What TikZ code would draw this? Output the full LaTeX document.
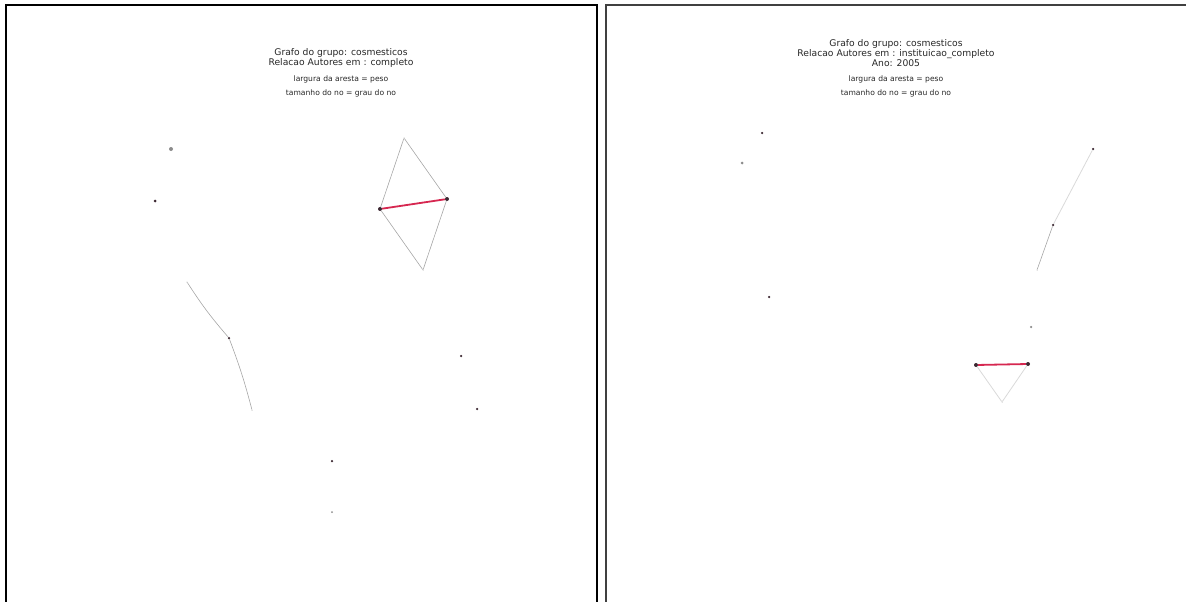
\documentclass[tikz,border=0pt]{standalone}
\usepackage{fontspec}
\setmainfont{DejaVu Sans}
\usepackage{tikz}
\usetikzlibrary{positioning}
\definecolor{pesoRed}{RGB}{214,39,80}
\definecolor{noDark}{RGB}{60,40,50}

\begin{document}
\begin{tikzpicture}[x=1pt,y=-1pt,
          no/.style={circle, fill=noDark, inner sep=0pt, minimum size=4pt},
          nofraco/.style={circle, fill=black!45, inner sep=0pt, minimum size=3pt},
          aresta/.style={draw=black!35, line width=0.6pt},
          arestafraca/.style={draw=black!15, line width=0.8pt},
          peso/.style={draw=pesoRed, line width=1.8pt},
          titulo/.style={font=\fontsize{9.2}{10}\selectfont, align=center, text=black!85},
          legenda/.style={font=\fontsize{7.6}{8}\selectfont, text=black!85}
        ]
          \useasboundingbox (0,0) rectangle (1186,602);
          \draw[line width=2pt] (6,604) -- (6,5) -- (597,5) -- (597,604);
          \draw[line width=2pt,black!75] (606,604) -- (606,5) -- (1188,5);

          \node[titulo] (tituloA) at (341,58) {Grafo do grupo: cosmesticos\\Relacao Autores em : completo};
          \node[legenda] (largA) at (341,79) {largura da aresta = peso};
          \node[legenda] (tamA) at (341,93) {tamanho do no = grau do no};

          \node[nofraco, minimum size=1pt] (aTop) at (404,138) {};
          \node[no] (aLeft) at (380,209) {};
          \node[no] (aRight) at (447,199) {};
          \node[nofraco, minimum size=1pt] (aBot) at (423,270) {};
          \draw[aresta] (aTop) -- (aLeft);
          \draw[aresta] (aTop) -- (aRight);
          \draw[aresta] (aLeft) -- (aBot);
          \draw[aresta] (aRight) -- (aBot);
          \draw[peso] (aLeft) -- (aRight);

          \node[nofraco, minimum size=4pt] (aIso1) at (171,149) {};
          \node[nofraco, fill=noDark] (aIso2) at (155,201) {};
          \node[nofraco, minimum size=1pt] (aCadA) at (187,282) {};
          \node[nofraco, fill=noDark, minimum size=2.5pt] (aCadB) at (229,338) {};
          \node[nofraco, minimum size=1pt] (aCadC) at (252,410) {};
          \draw[aresta] (aCadA) to[bend right=4] (aCadB);
          \draw[aresta] (aCadB) to[bend left=3] (aCadC);
          \node[nofraco, fill=noDark, minimum size=2.5pt] (aIso3) at (461,356) {};
          \node[nofraco, fill=noDark, minimum size=2.5pt] (aIso4) at (477,409) {};
          \node[nofraco, fill=noDark, minimum size=2.5pt] (aIso5) at (332,461) {};
          \node[nofraco, minimum size=2pt] (aIso6) at (332,512) {};

          \node[titulo] (tituloB) at (896,53) {Grafo do grupo: cosmesticos\\Relacao Autores em : instituicao\_completo\\Ano: 2005};
          \node[legenda] (largB) at (896,79) {largura da aresta = peso};
          \node[legenda] (tamB) at (896,93) {tamanho do no = grau do no};

          \node[nofraco, fill=noDark, minimum size=2.5pt] (bIso1) at (762,133) {};
          \node[nofraco, minimum size=3pt] (bIso2) at (742,163) {};
          \node[nofraco, fill=noDark, minimum size=2.5pt] (bIso3) at (769,297) {};
          \node[nofraco, minimum size=2.5pt] (bIso4) at (1031,327) {};
          \node[nofraco, fill=noDark, minimum size=2.5pt] (bCadA) at (1093,149) {};
          \node[nofraco, fill=noDark, minimum size=2.5pt] (bCadB) at (1053,225) {};
          \node[nofraco, minimum size=1pt] (bCadC) at (1037,270) {};
          \draw[arestafraca] (bCadA) -- (bCadB);
          \draw[aresta] (bCadB) -- (bCadC);

          \node[no] (bLeft) at (976,365) {};
          \node[no] (bRight) at (1028,364) {};
          \node[nofraco, minimum size=1pt] (bBot) at (1002,402) {};
          \draw[arestafraca] (bLeft) -- (bBot);
          \draw[arestafraca] (bRight) -- (bBot);
          \draw[peso] (bLeft) -- (bRight);
        \end{tikzpicture}
\end{document}
